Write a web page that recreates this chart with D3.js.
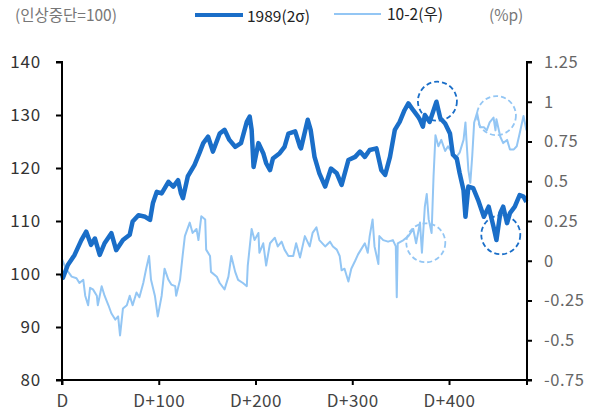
<!DOCTYPE html>
<html><head><meta charset="utf-8">
<script src="https://cdn.jsdelivr.net/npm/d3@7/dist/d3.min.js"></script>
<style>
body{margin:0;background:#fff;}
svg{display:block;font-family:"Noto Sans CJK KR","Noto Sans",sans-serif;}
</style></head><body>
<svg id="c" width="589" height="416"></svg>
<script>
// ---- data ----
const daysA = [0,1,6,13,20,25,30,34,39,44,51,56,63,70,73,79,86,91,94,98,103,110,115,120,123,125,130,137,142,146,151,156,163,168,173,179,185,191,194,196,198,203,208,211,215,218,225,230,234,241,246,247,254,257,261,266,272,278,284,289,296,303,308,313,318,325,330,334,339,344,349,354,358,363,368,370,373,375,380,387,391,396,401,404,408,411,415,417,420,425,430,436,441,446,449,453,456,460,463,468,473,477,480];
const valuesA = [100,99.3,101.7,103.6,106.4,108,105.5,106.7,103.6,105.8,107.7,104.5,106.4,107.4,109.9,111.1,110.8,110.2,113.4,115.5,115.2,117.4,116.5,117.7,115.2,114.3,118.4,120.6,122.8,124.7,125.9,123.1,126.5,127.2,125.3,124,124.7,128.7,129.7,127.2,120.2,124.7,122.8,120.9,119.6,121.8,122.8,124,126.5,126.9,124,123.7,129.1,127.2,122.1,119,116.5,119.9,119,116.8,121.5,122.1,123.1,122.1,123.4,123.7,119.6,118.7,122.1,127.2,128.7,130.9,132.2,130.9,129.7,129.1,127.8,130,128.7,132.5,129.4,128.4,126.5,122.5,121.8,119,115.8,110.8,116.5,116.2,114,110.8,112.7,108.9,106.4,111.5,112.7,109.6,111.5,112.7,114.9,114.6,113.6];

const daysB = [0,4,10,15,18,22,24,27,29,32,36,37,41,44,48,51,55,58,60,63,67,70,73,77,80,84,87,90,92,96,99,103,106,110,113,117,118,122,125,127,132,135,139,141,144,148,149,153,154,160,163,168,172,175,179,182,187,191,192,196,199,203,204,208,211,215,220,223,227,230,234,239,242,246,251,256,259,263,266,272,277,280,284,287,289,292,296,299,303,306,309,313,316,318,321,323,327,328,332,337,342,345,346,347,353,358,363,366,370,372,375,377,379,382,384,386,389,392,396,399,403,406,411,415,417,418,420,422,424,426,429,432,436,439,442,446,448,449,453,456,460,463,467,470,473,477,480];
const valuesB = [0.01,-0.05,-0.10,-0.11,-0.14,-0.12,-0.22,-0.28,-0.17,-0.18,-0.22,-0.28,-0.16,-0.22,-0.28,-0.33,-0.37,-0.35,-0.47,-0.30,-0.28,-0.22,-0.28,-0.20,-0.23,-0.14,-0.05,0.03,-0.12,-0.22,-0.35,-0.22,-0.05,-0.12,-0.15,-0.16,-0.22,-0.12,0.05,0.155,0.24,0.175,0.20,0.13,0.28,0.26,0.07,0.03,-0.07,-0.10,-0.14,-0.18,-0.10,0.03,-0.07,-0.12,-0.14,-0.16,-0.03,0.20,0.13,0.175,0.05,0.11,-0.03,0.11,0.145,0.09,0.12,0.07,0.03,0.03,0.11,0.02,0.155,0.09,0.175,0.21,0.13,0.09,0.12,0.09,0.07,0.03,-0.06,-0.05,-0.13,-0.05,0.00,0.04,0.07,0.11,0.05,0.155,0.26,0.09,-0.02,0.155,0.13,0.12,0.13,0.09,-0.23,0.11,0.13,0.155,0.20,0.11,0.24,0.05,0.34,0.42,0.26,0.175,0.53,0.79,0.72,0.76,0.69,0.72,0.68,0.64,0.68,0.76,0.87,0.76,0.57,0.49,0.66,0.87,0.93,0.84,0.84,0.82,0.87,0.90,0.82,0.89,0.78,0.74,0.76,0.70,0.70,0.72,0.80,0.91,0.82];

const leftTicks = [80,90,100,110,120,130,140];
const rightTicks = [-0.75,-0.5,-0.25,0,0.25,0.5,0.75,1,1.25];
const rightTickLabels = ["-0.75","-0.5","-0.25","0","0.25","0.5","0.75","1","1.25"];
const xTicks = [0,100,200,300,400];
const xTickLabels = ["D","D+100","D+200","D+300","D+400"];
const seriesNames = ["1989(2σ)","10-2(우)"];
// dashed annotation circles: [day, value, axis]
const circleDays = [388,449,376,453.5];
const circleValues = [132.6,0.913,0.113,107.4];
const circleAxis = ["L","R","R","L"];

// ---- chart ----
const dark = "#1a6ec8", light = "#93c6f4";
const svg = d3.select("#c");
const x = d3.scaleLinear().domain([0,480.6]).range([62,527]);
const yL = d3.scaleLinear().domain([80,140]).range([380,62]);
const yR = d3.scaleLinear().domain([-0.75,1.25]).range([380,62]);

// light series
svg.append("path")
  .datum(daysB.map((d,i)=>[d,valuesB[i]]))
  .attr("fill","none").attr("stroke",light).attr("stroke-width",2).attr("stroke-linejoin","round")
  .attr("d", d3.line().x(d=>x(d[0])).y(d=>yR(d[1])));
// dark series
svg.append("path")
  .datum(daysA.map((d,i)=>[d,valuesA[i]]))
  .attr("fill","none").attr("stroke",dark).attr("stroke-width",4.5).attr("stroke-linejoin","round")
  .attr("d", d3.line().x(d=>x(d[0])).y(d=>yL(d[1])));

// circles
circleDays.forEach((d,i)=>{
  const isL = circleAxis[i]==="L";
  svg.append("circle")
    .attr("cx", x(d)).attr("cy", isL ? yL(circleValues[i]) : yR(circleValues[i]))
    .attr("r", 19.5).attr("fill","none")
    .attr("stroke", isL ? dark : light).attr("stroke-width",1.8)
    .attr("stroke-dasharray","5,3");
});

// axes
const gL = svg.append("g").attr("transform","translate(62,0)")
  .call(d3.axisLeft(yL).tickValues(leftTicks).tickSize(6).tickPadding(15).tickFormat(d3.format("d")));
const gR = svg.append("g").attr("transform","translate(527,0)")
  .call(d3.axisRight(yR).tickValues(rightTicks).tickSize(5).tickPadding(12).tickFormat((d,i)=>rightTickLabels[i]));
const gX = svg.append("g").attr("transform","translate(0,380)")
  .call(d3.axisBottom(x).tickValues(xTicks).tickSize(5).tickPadding(10).tickFormat((d,i)=>xTickLabels[i]));
[gL,gR,gX].forEach(g=>{
  g.select(".domain").attr("stroke","#000").attr("stroke-width",2);
  g.selectAll(".tick line").attr("stroke","#000").attr("stroke-width",2);
  g.selectAll("text").attr("font-size",17).attr("font-family","'Noto Sans CJK KR','Noto Sans',sans-serif");
});
gL.select(".domain").attr("d","M-6,62H0V380H-6");
gR.select(".domain").attr("d","M5,62H0V380H5");
gX.select(".domain").attr("d","M62,5V0H527V5");
gL.selectAll("text").attr("fill","#333").attr("letter-spacing","0.8px");
gR.selectAll("text").attr("fill","#666").attr("font-size",16.5).attr("letter-spacing","0.5px");
gX.selectAll("text").attr("fill","#444").attr("letter-spacing","0.5px");

// header and legend
const hdr = svg.append("g").attr("font-size",15.5);
hdr.append("text").attr("x",15).attr("y",21).attr("fill","#777").text("(인상중단=100)");
hdr.append("line").attr("x1",195).attr("x2",243).attr("y1",15).attr("y2",15).attr("stroke",dark).attr("stroke-width",4);
hdr.append("text").attr("x",247).attr("y",22).attr("fill","#222").text(seriesNames[0]);
hdr.append("line").attr("x1",334).attr("x2",381).attr("y1",14).attr("y2",14).attr("stroke",light).attr("stroke-width",2);
hdr.append("text").attr("x",387).attr("y",20).attr("fill","#222").text(seriesNames[1]);
hdr.append("text").attr("x",489).attr("y",21).attr("fill","#777").text("(%p)");
</script>
</body></html>
